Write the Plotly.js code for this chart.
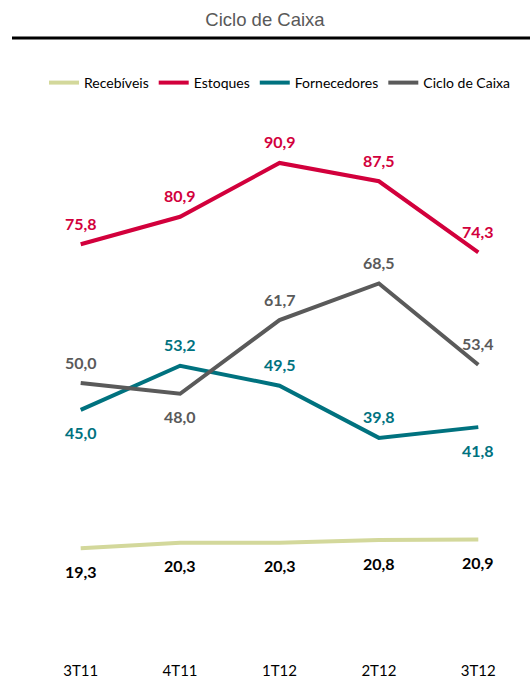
<!DOCTYPE html>
<html>
<head>
<meta charset="utf-8">
<script src="https://cdn.plot.ly/plotly-3.0.1.min.js"></script>
<style>html,body{margin:0;padding:0;background:#fff;}#chart{width:530px;height:682px;}</style>
</head>
<body>
<div id="chart"></div>
<script>
const categories = ["3T11", "4T11", "1T12", "2T12", "3T12"];
const recebiveis = [19.3, 20.3, 20.3, 20.8, 20.9];
const estoques = [75.8, 80.9, 90.9, 87.5, 74.3];
const fornecedores = [45.0, 53.2, 49.5, 39.8, 41.8];
const cicloCaixa = [50.0, 48.0, 61.7, 68.5, 53.4];
const seriesNames = ["Recebíveis", "Estoques", "Fornecedores", "Ciclo de Caixa"];

const seriesData = [recebiveis, estoques, fornecedores, cicloCaixa];
const lineColors = ["#D3D89B", "#D2003C", "#00727F", "#5A5A5A"];
const labelColors = ["#000000", "#D2003C", "#00727F", "#5A5A5A"];
// +1 above, -1 below
const labelSides = [
  [-1, -1, -1, -1, -1],
  [1, 1, 1, 1, 1],
  [-1, 1, 1, 1, -1],
  [1, -1, 1, 1, 1]
];

const fmt = v => v.toFixed(1).replace(".", ",");

const traces = seriesData.map((d, i) => ({
  type: "scatter", mode: "lines", name: seriesNames[i],
  x: categories, y: d,
  line: {color: lineColors[i], width: 4},
  hoverinfo: "skip"
}));

const annotations = [];
seriesData.forEach((d, i) => {
  d.forEach((v, j) => {
    annotations.push({
      x: categories[j], y: v, xref: "x", yref: "y",
      text: fmt(v), showarrow: false,
      yshift: labelSides[i][j] > 0 ? 21 : -23,
      font: {family: "Lato, 'Noto Sans', sans-serif", size: 16, color: labelColors[i], weight: "bold"}
    });
  });
});

const layout = {
  width: 530, height: 682,
  margin: {l: 31, r: 2, t: 114, b: 30},
  paper_bgcolor: "#fff", plot_bgcolor: "#fff",
  showlegend: true,
  title: {
    text: "Ciclo de Caixa", x: 0.5, xref: "container", xanchor: "center",
    y: 1 - 20 / 682, yref: "container", yanchor: "middle",
    font: {family: "'Liberation Sans', Arial, sans-serif", size: 18.5, color: "#595959"}
  },
  legend: {
    orientation: "h", x: 0.5, xanchor: "center", y: (652 - 83) / 538, yanchor: "middle",
    font: {family: "Lato, 'Noto Sans', sans-serif", size: 14, color: "#000"},
    itemwidth: 30, tracegroupgap: 0, bgcolor: "rgba(0,0,0,0)"
  },
  xaxis: {
    type: "category", range: [-0.5, 4.5], showgrid: false, zeroline: false, showline: false,
    ticks: "", ticklabelstandoff: 8,
    tickfont: {family: "Lato, 'Noto Sans', sans-serif", size: 15, color: "#000"},
    fixedrange: true
  },
  yaxis: {
    range: [0, 100], showgrid: false, zeroline: false, showline: false,
    showticklabels: false, ticks: "", fixedrange: true
  },
  shapes: [{
    type: "line", xref: "paper", yref: "paper",
    x0: (12 - 31) / 497, x1: (530 - 31) / 497,
    y0: (652 - 38) / 538, y1: (652 - 38) / 538,
    line: {color: "#000", width: 3}
  }],
  annotations: annotations
};

Plotly.newPlot("chart", traces, layout, {displayModeBar: false, staticPlot: true});
</script>
</body>
</html>
